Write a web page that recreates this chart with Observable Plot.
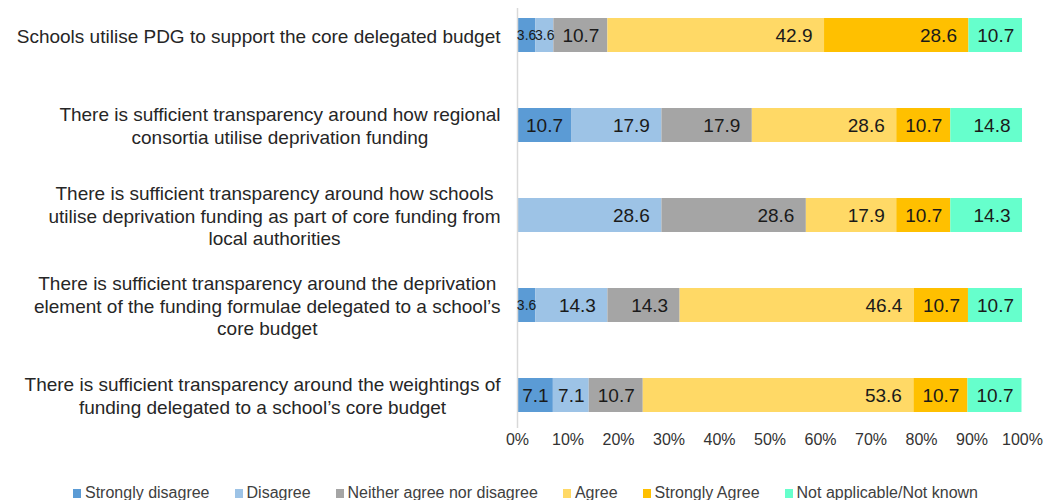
<!DOCTYPE html>
<html>
<head>
<meta charset="utf-8">
<script src="https://cdn.jsdelivr.net/npm/d3@7"></script>
<script src="https://cdn.jsdelivr.net/npm/@observablehq/plot@0.6"></script>
<style>
  body { margin: 0; background: #fff; font-family: "Liberation Sans", Arial, sans-serif; }
  #chart { width: 1050px; height: 470px; }
  #legend { display: flex; gap: 25px; padding-left: 73px; margin-top: 13px; font-size: 16px; line-height: 20px; color: #404040; white-space: nowrap; }
  #legend .sw { display: inline-block; width: 8px; height: 9px; margin-right: 4px; vertical-align: baseline; }
</style>
</head>
<body>
<div id="chart"></div>
<div id="legend"></div>
<script>
// ---- data ----
const statements = [
  "Schools utilise PDG to support the core delegated budget",
  "There is sufficient transparency around how regional\nconsortia utilise deprivation funding",
  "There is sufficient transparency around how schools\nutilise deprivation funding as part of core funding from\nlocal authorities",
  "There is sufficient transparency around the deprivation\nelement of the funding formulae delegated to a school’s\ncore budget",
  "There is sufficient transparency around the weightings of\nfunding delegated to a school’s core budget"
];
const responses = ["Strongly disagree", "Disagree", "Neither agree nor disagree", "Agree", "Strongly Agree", "Not applicable/Not known"];
const stronglyDisagree = [3.6, 10.7, 0, 3.6, 7.1];
const disagree         = [3.6, 17.9, 28.6, 14.3, 7.1];
const neither          = [10.7, 17.9, 28.6, 14.3, 10.7];
const agree            = [42.9, 28.6, 17.9, 46.4, 53.6];
const stronglyAgree    = [28.6, 10.7, 10.7, 10.7, 10.7];
const notApplicable    = [10.7, 14.8, 14.3, 10.7, 10.7];
const xTicks = [0, 10, 20, 30, 40, 50, 60, 70, 80, 90, 100];
const colors = ["#5B9BD5", "#9DC3E6", "#A5A5A5", "#FFD966", "#FFC000", "#66FFCC"];

// ---- layout ----
const W = 1050, H = 470, mL = 517, mR = 28, mT = 8, mB = 42;
const pxPer = (W - mL - mR) / 100;
const FONT = '"Liberation Sans", Arial, sans-serif';
const LABEL_FS = 19, VALUE_FS = 19, SMALL_FS = 14;
const ctx = document.createElement("canvas").getContext("2d");
function measure(t, fs) { ctx.font = `${fs}px ${FONT}`; return ctx.measureText(t).width; }

const series = [stronglyDisagree, disagree, neither, agree, stronglyAgree, notApplicable];
const data = statements.flatMap((s, i) => responses.map((r, j) => ({statement: s, response: r, value: series[j][i]})));

// value labels: inside end when room, else centred
const PAD = 12;
const labelsEnd = [], labelsMid = [];
statements.forEach((s, i) => {
  let cum = 0;
  series.forEach((arr, j) => {
    const v = arr[i];
    const x1 = cum, x2 = Math.min(cum + v, 100);
    cum += v;
    if (v <= 0) return;
    const fs = v < 5 ? SMALL_FS : VALUE_FS;
    const t = v.toFixed(1);
    const tw = measure(t, fs);
    const wpx = (x2 - x1) * pxPer;
    if (wpx >= tw + 2 * PAD) labelsEnd.push({statement: s, x: x2, text: t, fs});
    else labelsMid.push({statement: s, x: (x1 + x2) / 2, text: t, fs});
  });
});

const GAP = 17;
const yLabelMarks = statements.map(s => {
  const maxW = Math.max(...s.split("\n").map(l => measure(l, LABEL_FS)));
  return Plot.text([s], {
    y: d => d, text: d => d, frameAnchor: "left", dx: -(GAP + maxW / 2),
    textAnchor: "middle", lineHeight: 1.18, fontSize: LABEL_FS, fill: "#262626"
  });
});

const chart = Plot.plot({
  width: W, height: H,
  marginLeft: mL, marginRight: mR, marginTop: mT, marginBottom: mB,
  style: {fontFamily: FONT, fontSize: "16px", background: "#fff"},
  x: {domain: [0, 100], clamp: true, axis: null},
  y: {domain: statements, range: [-10, 440], paddingInner: 0.62, paddingOuter: 0.31, align: 0.5, axis: null},
  color: {domain: responses, range: colors},
  marks: [
    Plot.barX(data, Plot.stackX({y: "statement", x: "value", fill: "response"})),
    Plot.ruleX([0], {stroke: "#d9d9d9", strokeWidth: 1.5}),
    Plot.axisX({ticks: xTicks, tickFormat: d => d + "%", tickSize: 0, tickPadding: 5, fontSize: 16, fill: "#333", anchor: "bottom"}),
    Plot.text(labelsEnd, {x: "x", y: "statement", text: "text", fontSize: "fs", textAnchor: "end", dx: -PAD, fill: "#1a1a1a"}),
    Plot.text(labelsMid, {x: "x", y: "statement", text: "text", fontSize: "fs", textAnchor: "middle", fill: "#1a1a1a"}),
    ...yLabelMarks
  ]
});
document.getElementById("chart").appendChild(chart);

const legend = document.getElementById("legend");
responses.forEach((r, j) => {
  const item = document.createElement("span");
  const sw = document.createElement("span");
  sw.className = "sw";
  sw.style.background = colors[j];
  item.appendChild(sw);
  item.appendChild(document.createTextNode(r));
  legend.appendChild(item);
});
</script>
</body>
</html>
